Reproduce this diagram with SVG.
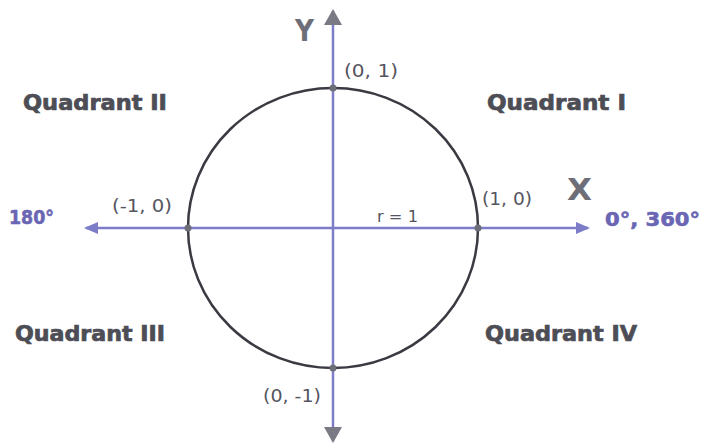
<svg xmlns="http://www.w3.org/2000/svg" width="701" height="444" viewBox="0 0 701 444">
<defs>
<style>
.q{font-family:"DejaVu Sans","Liberation Sans",sans-serif;font-weight:bold;font-size:20.5px;fill:#4d4d56;stroke:#4d4d56;stroke-width:0.7}
.deg{font-family:"DejaVu Sans","Liberation Sans",sans-serif;font-weight:bold;font-size:19.5px;fill:#6a66b4;stroke:#6a66b4;stroke-width:0.6}
.pt{font-family:"DejaVu Sans","Liberation Sans",sans-serif;font-size:18.5px;fill:#55555f}
.ax{font-family:"DejaVu Sans","Liberation Sans",sans-serif;font-weight:bold;font-size:30px;fill:#6e6e78}
.axis{stroke:#7c7cc8;stroke-width:2.5;fill:none}
</style>
<marker id="ah" markerWidth="14" markerHeight="14" refX="12" refY="7" orient="auto" markerUnits="userSpaceOnUse" viewBox="0 0 14 14">
<path d="M0,1 L14,7 L0,13 z" fill="#7c7cc8"/>
</marker>
<marker id="ahg" markerWidth="16" markerHeight="18" refX="14" refY="9" orient="auto" markerUnits="userSpaceOnUse" viewBox="0 0 16 18">
<path d="M0,0 L16,9 L0,18 z" fill="#7a7a84"/>
</marker>
</defs>
<rect width="701" height="444" fill="#ffffff"/>
<g id="connectors">
<line class="axis" x1="333" y1="228" x2="86" y2="228" marker-end="url(#ah)"/>
<line class="axis" x1="333" y1="228" x2="588" y2="228" marker-end="url(#ah)"/>
<line class="axis" x1="333" y1="228" x2="333" y2="11" marker-end="url(#ahg)"/>
<line class="axis" x1="333" y1="228" x2="333" y2="441" marker-end="url(#ahg)"/>
</g>
<g id="circle">
<ellipse cx="333" cy="228" rx="145" ry="140" fill="none" stroke="#3a3a42" stroke-width="2.5"/>
</g>
<g id="points">
<circle cx="333" cy="88" r="3.5" fill="#6e6e78"/>
<circle cx="333" cy="368" r="3.5" fill="#6e6e78"/>
<circle cx="188" cy="228" r="3.5" fill="#6e6e78"/>
<circle cx="478" cy="228" r="3.5" fill="#6e6e78"/>
</g>
<g id="labels">
<text class="ax" x="295" y="41" textLength="19" lengthAdjust="spacingAndGlyphs">Y</text>
<text class="ax" x="567" y="200" textLength="25" lengthAdjust="spacingAndGlyphs">X</text>
<text class="pt" x="344" y="77" textLength="54" lengthAdjust="spacingAndGlyphs">(0, 1)</text>
<text class="pt" x="112" y="212" textLength="60" lengthAdjust="spacingAndGlyphs">(-1, 0)</text>
<text class="pt" x="482" y="205" textLength="50" lengthAdjust="spacingAndGlyphs">(1, 0)</text>
<text class="pt" x="377" y="222" textLength="41" lengthAdjust="spacingAndGlyphs" style="font-size:16px">r = 1</text>
<text class="pt" x="263" y="402" textLength="58" lengthAdjust="spacingAndGlyphs">(0, -1)</text>
<text class="deg" x="9" y="224" textLength="45" lengthAdjust="spacingAndGlyphs">180°</text>
<text class="deg" x="605" y="226" textLength="95" lengthAdjust="spacingAndGlyphs">0°, 360°</text>
</g>
<g id="quadrants">
<text class="q" x="23" y="110" textLength="144" lengthAdjust="spacingAndGlyphs">Quadrant II</text>
<text class="q" x="487" y="110" textLength="139" lengthAdjust="spacingAndGlyphs">Quadrant I</text>
<text class="q" x="15" y="341" textLength="150" lengthAdjust="spacingAndGlyphs">Quadrant III</text>
<text class="q" x="485" y="341" textLength="152" lengthAdjust="spacingAndGlyphs">Quadrant IV</text>
</g>
</svg>
